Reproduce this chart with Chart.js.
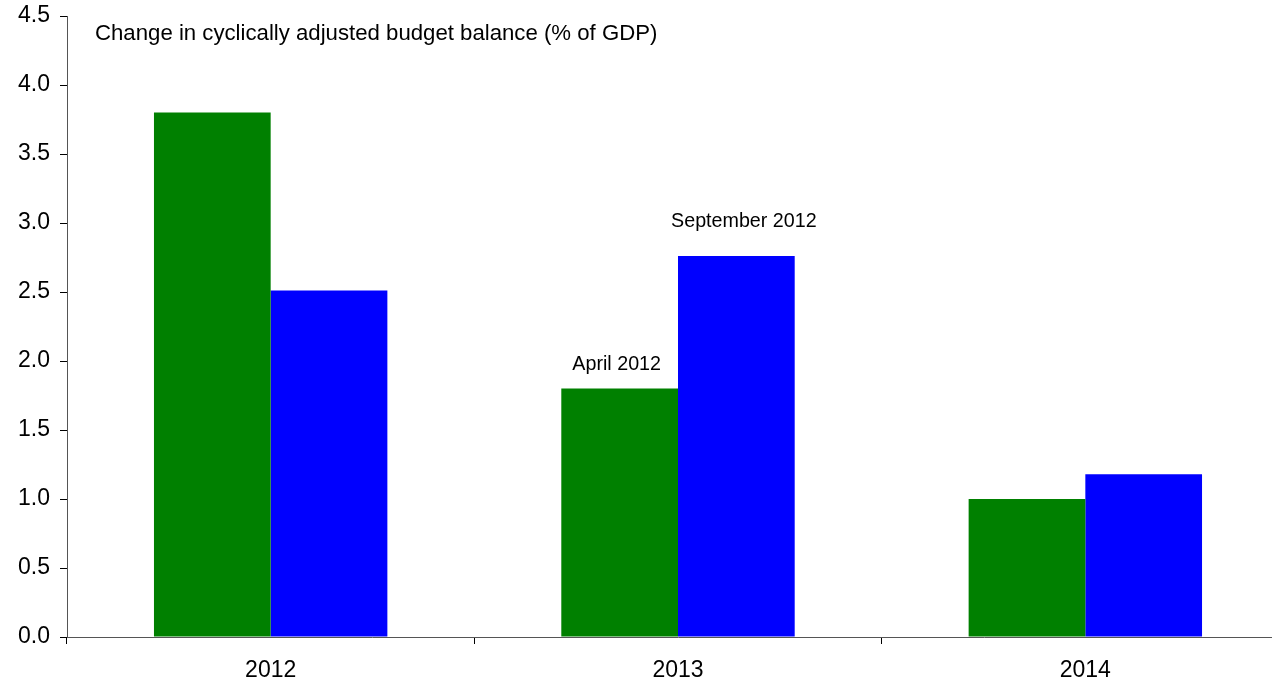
<!DOCTYPE html>
<html>
<head>
<meta charset="utf-8">
<script src="https://cdn.jsdelivr.net/npm/chart.js@4/dist/chart.umd.min.js"></script>
<style>
  html, body { margin: 0; padding: 0; background: #fff; overflow: hidden; }
  #wrap { position: absolute; left: 0; top: 0; width: 1289px; height: 683px; }
</style>
</head>
<body>
<div id="wrap"><canvas id="c"></canvas></div>
<script>
// Change in cyclically adjusted budget balance, % of GDP
const years = ['2012', '2013', '2014'];
const seriesNames = ['April 2012', 'September 2012'];
const april2012 = [3.8, 1.8, 1.0];
const september2012 = [2.51, 2.76, 1.18];
const chartTitle = 'Change in cyclically adjusted budget balance (% of GDP)';

const FONT = '"Liberation Sans", Arial, Helvetica, sans-serif';

// Draws the heading and the series names next to the 2013 bars
const textPlugin = {
  id: 'chartText',
  afterDatasetsDraw(chart) {
    const ctx = chart.ctx;
    ctx.save();
    ctx.fillStyle = '#000';
    ctx.textBaseline = 'alphabetic';

    ctx.font = '22.2px ' + FONT;
    ctx.textAlign = 'left';
    ctx.fillText(chartTitle, chart.chartArea.left + 28, 40);

    ctx.font = '19.7px ' + FONT;
    ctx.textAlign = 'center';
    const g = chart.getDatasetMeta(0).data[1];
    ctx.fillText(seriesNames[0], g.x - 3, g.y - 19);
    const b = chart.getDatasetMeta(1).data[1];
    ctx.fillText(seriesNames[1], b.x + 7.5, b.y - 29);
    ctx.restore();
  }
};

new Chart(document.getElementById('c'), {
  type: 'bar',
  data: {
    labels: years,
    datasets: [
      { label: seriesNames[0], data: april2012, backgroundColor: '#008000', borderWidth: 0 },
      { label: seriesNames[1], data: september2012, backgroundColor: '#0000ff', borderWidth: 0 }
    ]
  },
  options: {
    responsive: true,
    maintainAspectRatio: false,
    animation: false,
    devicePixelRatio: 1,
    layout: { padding: { top: 16, right: 0, bottom: 0, left: 0 } },
    plugins: { legend: { display: false }, tooltip: { enabled: false } },
    datasets: { bar: { categoryPercentage: 0.573, barPercentage: 1.0 } },
    scales: {
      x: {
        offset: true,
        grid: { offset: true, drawOnChartArea: false, drawTicks: true, tickLength: 7, color: '#000' },
        border: { display: true, color: '#555', width: 1 },
        ticks: { color: '#000', font: { family: FONT, size: 23 }, padding: 13, maxRotation: 0 },
        afterFit(scale) { scale.height = 46; scale.paddingLeft = 0; scale.paddingRight = 0; }
      },
      y: {
        min: 0,
        max: 4.5,
        grid: { drawOnChartArea: false, drawTicks: true, tickLength: 7, color: '#000' },
        border: { display: true, color: '#555', width: 1 },
        ticks: {
          stepSize: 0.5,
          color: '#000',
          font: { family: FONT, size: 23 },
          padding: 10,
          callback: v => Number(v).toFixed(1)
        },
        afterFit(scale) { scale.width = 67; scale.paddingTop = 0; scale.paddingBottom = 0; }
      }
    }
  },
  plugins: [textPlugin]
});
</script>
</body>
</html>
